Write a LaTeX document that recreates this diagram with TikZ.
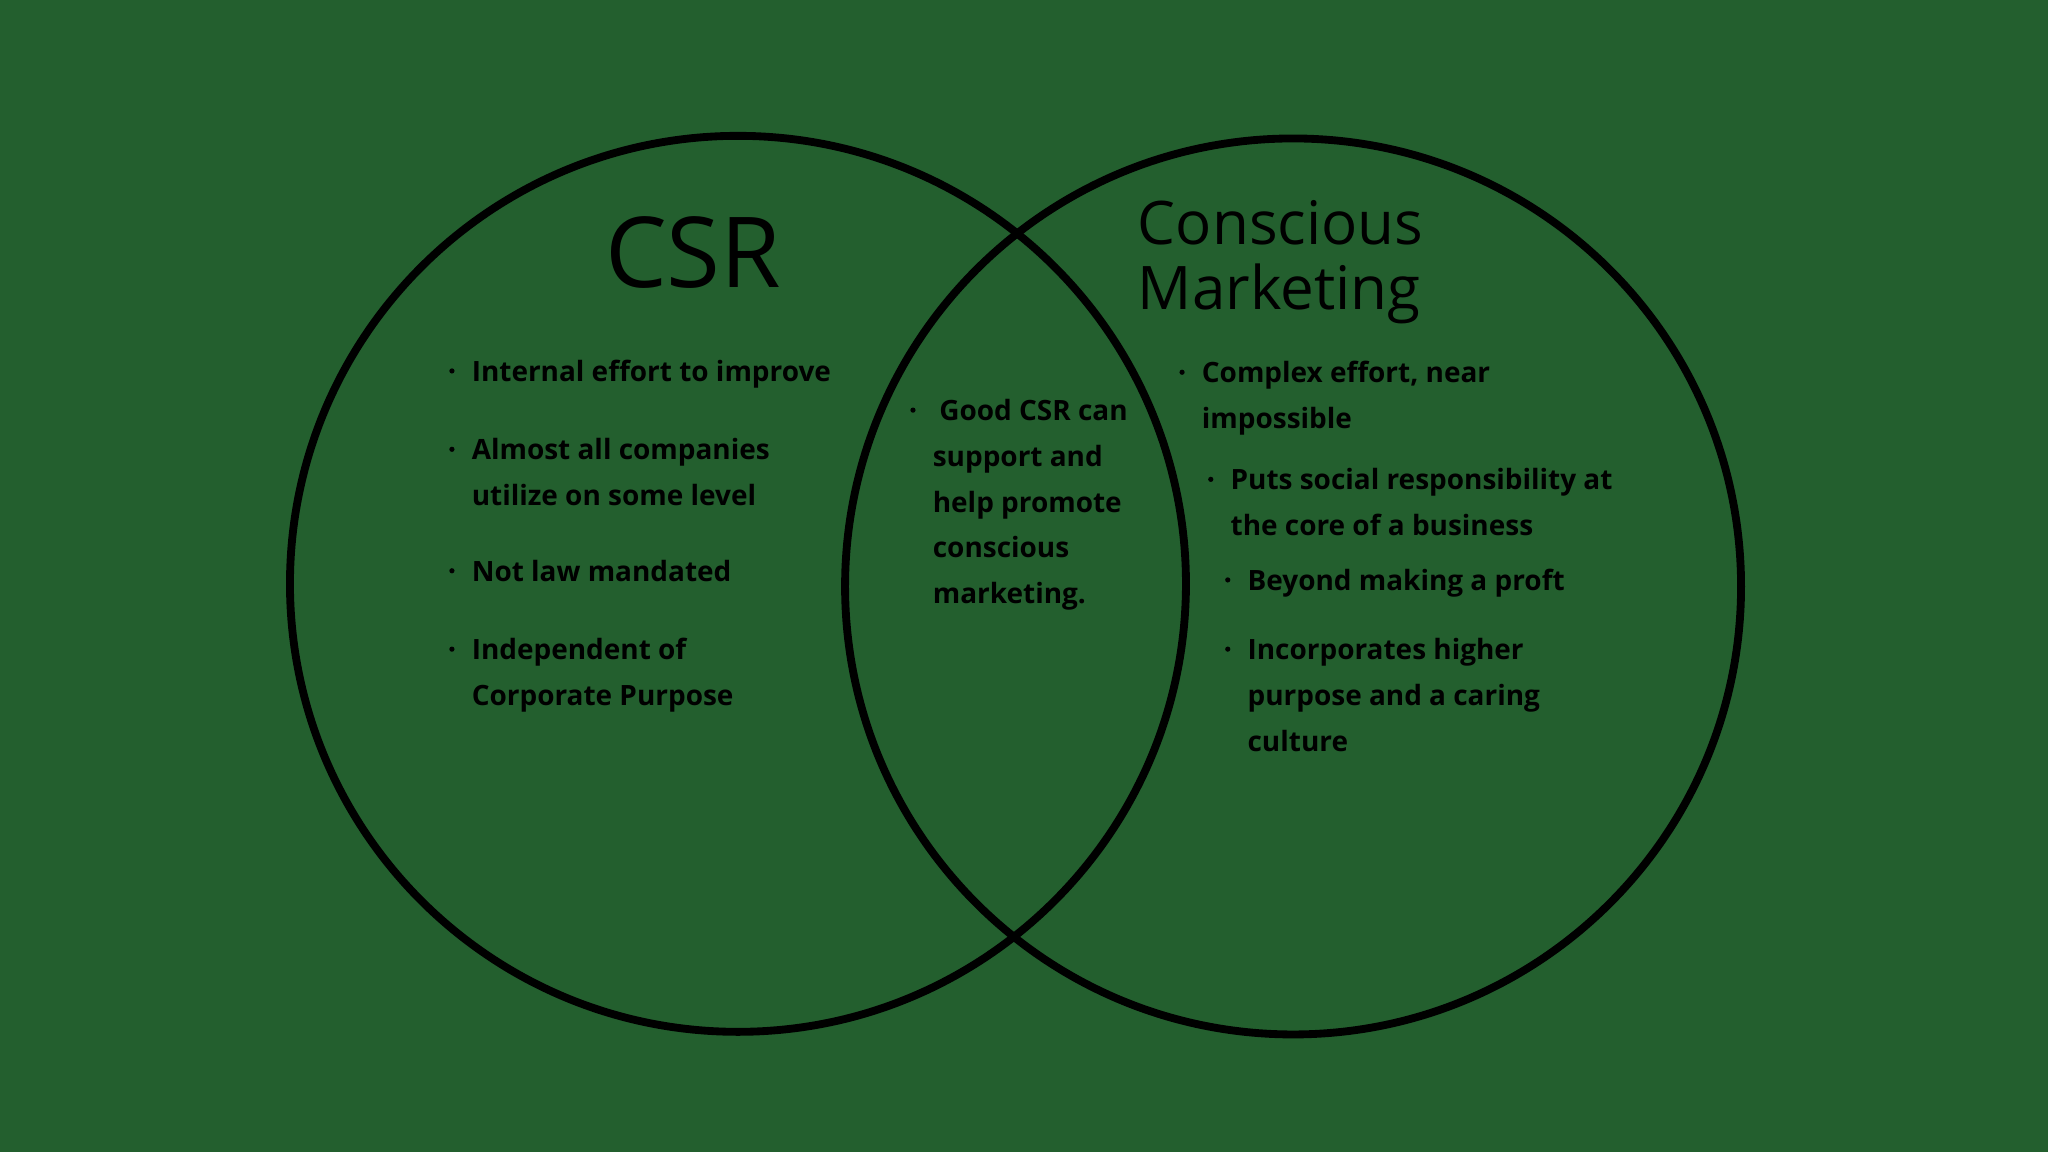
\documentclass[tikz,border=0pt]{standalone}
\usepackage{fontspec}
\setmainfont{Open Sans}
\definecolor{bg}{HTML}{235F2E}
\tikzset{x=1pt,y=-1pt,
 ring/.style={draw=black,line width=6pt},
 txt/.style={anchor=base west,inner sep=0pt,font=\fontsize{21.4}{35}\selectfont\bfseries},
 dot/.style={circle,fill=black,inner sep=0pt,minimum size=4pt}}
\begin{document}
\begin{tikzpicture}
\fill[bg] (0,0) rectangle (1568,882);
\useasboundingbox (0,0) rectangle (1568,882);
\node[ring,circle,minimum size=686pt,inner sep=0pt] (L) at (565,447) {};
\node[ring,circle,minimum size=686pt,inner sep=0pt] (R) at (990,449) {};
\node[anchor=base west,inner sep=0pt,font=\fontsize{75}{75}\selectfont] (t1) at (463,220) {CSR};
\node[anchor=base west,inner sep=0pt,font=\fontsize{46}{50}\selectfont] (t2) at (871,187) {Conscious};
\node[anchor=base west,inner sep=0pt,font=\fontsize{46}{50}\selectfont] (t3) at (871,237) {Marketing};
\foreach \n/\x/\y/\t in {a/361/292/{Internal effort to improve},b/361/352/{Almost all companies},c/361/445/{Not law mandated},d/361/505/{Independent of},
 e/719/322/{Good CSR can},
 f/920/293/{Complex effort, near},g/942/375/{Puts social responsibility at},h/955/452/{Beyond making a proft},i/955/505/{Incorporates higher}}
 {\node[txt] (\n) at (\x,\y) {\t};}
\foreach \n/\x/\y in {a/346/292,b/346/352,c/346/445,d/346/505,e/699/322,f/905/293,g/927/375,h/940/452,i/940/505}
 {\node[dot] (\n d) at (\x,\y-8) {};}
\foreach \n/\x/\y/\t in {b2/361/387/{utilize on some level},d2/361/540/{Corporate Purpose},
 e2/714/357/{support and},e3/714/392/{help promote},e4/714/427/{conscious},e5/714/462/{marketing.},
 f2/920/328/{impossible},g2/942/410/{the core of a business},i2/955/540/{purpose and a caring},i3/955/575/{culture}}
 {\node[txt] (\n) at (\x,\y) {\t};}
\end{tikzpicture}
\end{document}
